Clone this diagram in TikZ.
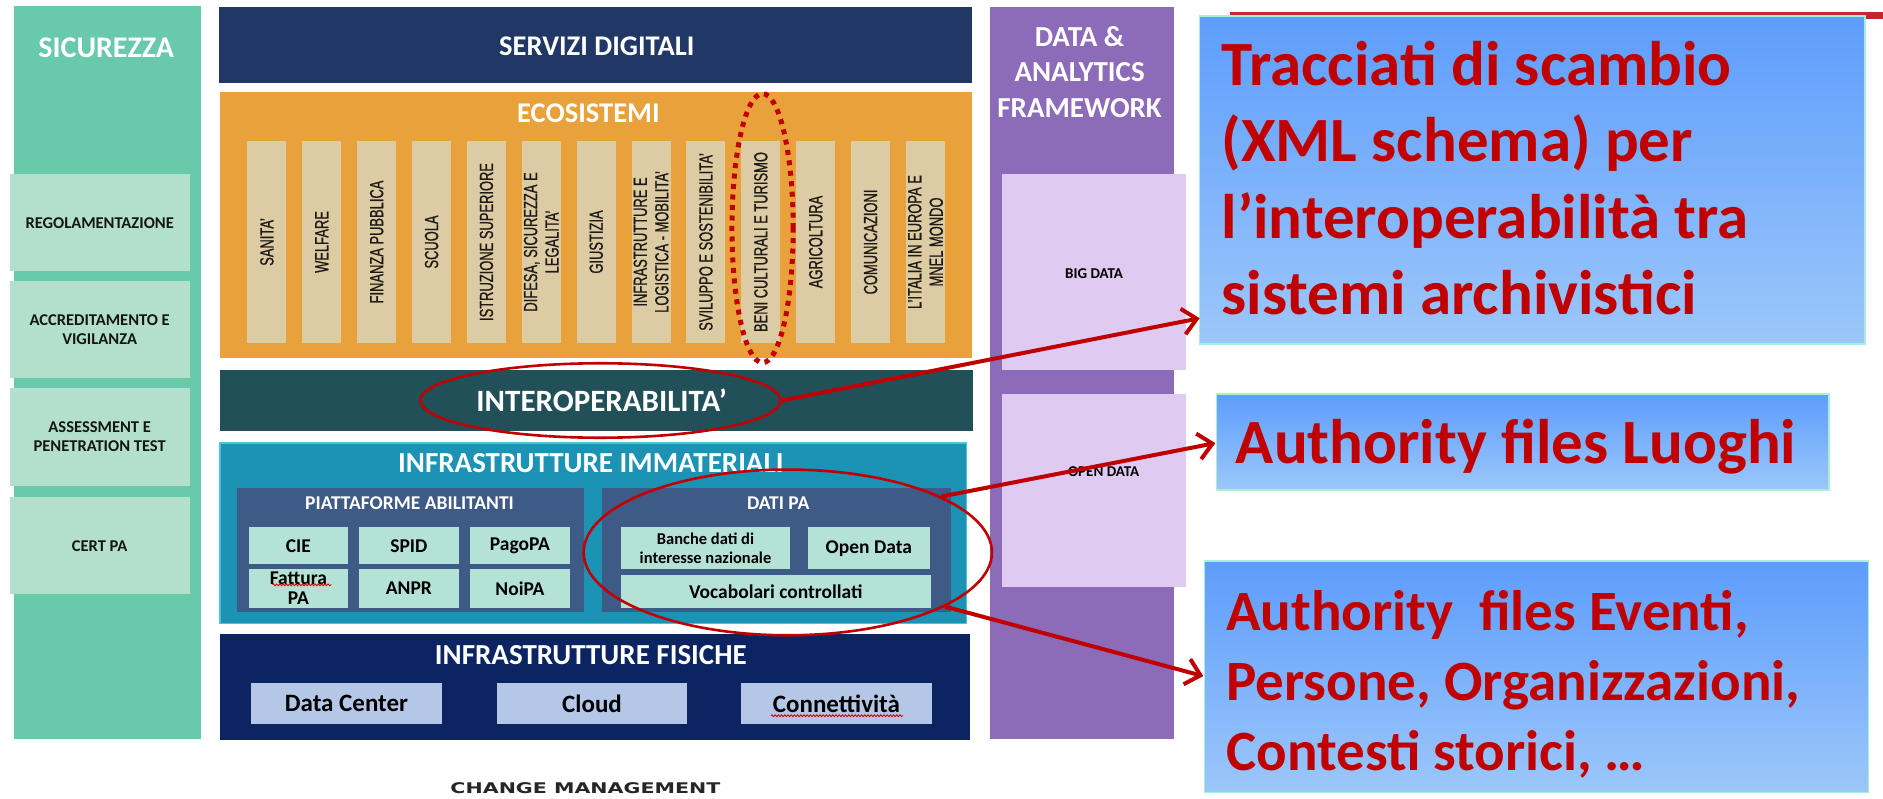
\documentclass[tikz,border=0pt]{standalone}
\usepackage{fontspec}
\setmainfont{Carlito}
\newfontfamily\narrowFont[FakeStretch=0.68,FakeBold=0.8]{Liberation Sans}
\newfontfamily\wideFont[FakeStretch=1.4]{DejaVu Sans}
\usetikzlibrary{shapes.geometric,arrows.meta,decorations.pathmorphing}
\definecolor{sicMain}{HTML}{69C9AB}
\definecolor{sicSub}{HTML}{B3E0CC}
\definecolor{servizi}{HTML}{213765}
\definecolor{eco}{HTML}{E9A23B}
\definecolor{ecoCol}{HTML}{DDCBA4}
\definecolor{interop}{HTML}{225058}
\definecolor{immat}{HTML}{1C93B4}
\definecolor{immatEdge}{HTML}{4CC3D6}
\definecolor{immatBox}{HTML}{3E5A87}
\definecolor{immatSub}{HTML}{B5E2D6}
\definecolor{fisiche}{HTML}{0C2462}
\definecolor{fisSub}{HTML}{B4C7E7}
\definecolor{dafPurple}{HTML}{8C6BB9}
\definecolor{lavender}{HTML}{DFCAF2}
\definecolor{blueTop}{HTML}{5E9DFC}
\definecolor{blueBot}{HTML}{9CC7FA}
\definecolor{blueEdge}{HTML}{A8EFD6}
\definecolor{darkRed}{HTML}{C00000}
\definecolor{topRed}{HTML}{C0282D}
\definecolor{colText}{HTML}{1E1A16}
\definecolor{subText}{HTML}{151515}
\newcommand\fsz[2]{\fontsize{#1}{#2}\selectfont}
\def\u{1.2009pt}
\newcommand\bx[7][]{%
  \pgfmathsetmacro\bxw{(#5)-(#3)}\pgfmathsetmacro\bxh{(#6)-(#4)}%
  \pgfmathsetmacro\bxcx{((#3)+(#5))/2}\pgfmathsetmacro\bxcy{((#4)+(#6))/2}%
  \node[inner sep=0pt,outer sep=0pt,minimum width=\bxw*\u,minimum height=\bxh*\u,#1] (#2) at (\bxcx,\bxcy) {#7};}
\begin{document}
\begin{tikzpicture}[x=1.2009pt,y=-1.2009pt,
  wt/.style={text=white,font=\bfseries\fsz{#1}{#1},inner sep=0pt},
  sicbox/.style={fill=sicSub,align=center,text=subText,font=\bfseries\fsz{16.5}{19}},
  collab/.style={rotate=90,align=center,text=colText,font=\narrowFont\fsz{19}{21.5},inner sep=0pt},
  platbox/.style={fill=immatSub,align=center,text=black,font=\bfseries\fsz{19.5}{23}},
  fisbox/.style={fill=fisSub,text=black,font=\bfseries\fsz{25}{30}},
  lavbox/.style={fill=lavender},
  lavtxt/.style={text=black,font=\bfseries\fsz{15}{18},inner sep=0pt},
  bluebox/.style={top color=blueTop,bottom color=blueBot,draw=blueEdge,line width=1.5pt},
  redtxt/.style={text=darkRed,font=\bfseries\fsz{#1}{#1},anchor=base west,inner sep=0pt},
  redell/.style={ellipse,draw=darkRed,line width=2.6pt,inner sep=0pt},
  redarrow/.style={draw=darkRed,line width=4pt,-{Straight Barb[length=14pt,width=26pt]}},
  squig/.style={draw=red!85!black,line width=0.9pt,decorate,decoration={snake,amplitude=0.9pt,segment length=3.2pt}}
]
\useasboundingbox[fill=white] (0,0) rectangle (1568,665);

% SICUREZZA
\bx[fill=sicMain]{sic}{12}{5}{167}{615}{}
\node[wt=30] (sicT) at (88.5,40) {SICUREZZA};
\bx[sicbox]{reg}{8}{145}{158}{226}{REGOLAMENTAZIONE}
\bx[sicbox]{acc}{8}{234}{158}{315}{ACCREDITAMENTO E\\VIGILANZA}
\bx[sicbox]{ass}{8}{323}{158}{405}{ASSESSMENT E\\PENETRATION TEST}
\bx[sicbox]{cert}{8}{414}{158}{495}{CERT PA}

% SERVIZI DIGITALI
\bx[fill=servizi]{serv}{182}{6}{809}{69.5}{}
\node[wt=28.5] (servT) at (497,38.5) {SERVIZI DIGITALI};

% ECOSISTEMI
\bx[fill=eco]{eco}{183}{77}{809}{298}{}
\node[wt=28.5] (ecoT) at (490,94) {ECOSISTEMI};
\foreach \i/\lab in {0/{SANITA’},1/{WELFARE},2/{FINANZA PUBBLICA},3/{SCUOLA},4/{ISTRUZIONE SUPERIORE},5/{DIFESA, SICUREZZA E\\LEGALITA’},6/{GIUSTIZIA},7/{INFRASTRUTTURE E\\LOGISTICA - MOBILITA’},8/{SVILUPPO E SOSTENIBILITA’},9/{BENI CULTURALI E TURISMO},10/{AGRICOLTURA},11/{COMUNICAZIONI},12/{L’ITALIA IN EUROPA E\\MNEL MONDO}}{
  \pgfmathsetmacro\xa{206+45.7*\i}
  \pgfmathsetmacro\xb{\xa+32.5}
  \bx[fill=ecoCol]{col\i}{\xa}{117}{\xb}{286}{}
  \node[collab] (lab\i) at (col\i.center) {\lab};
}

% INTEROPERABILITA
\bx[fill=interop]{iop}{183}{308}{810}{359}{}
\node[wt=31] (iopT) at (501,333.5) {INTEROPERABILITA’};

% INFRASTRUTTURE IMMATERIALI
\bx[fill=immat,draw=immatEdge,line width=1.5pt]{imm}{183}{369}{805}{519}{}
\node[wt=29] (immT) at (492,386) {INFRASTRUTTURE IMMATERIALI};
\bx[fill=immatBox]{pia}{197}{406}{486}{510}{}
\node[wt=19.5] (piaT) at (341,419) {PIATTAFORME ABILITANTI};
\bx[platbox]{cie}{207}{439}{290}{470}{CIE}
\bx[platbox]{spid}{299}{439}{382}{470}{SPID}
\bx[platbox]{pago}{391}{439}{475}{470}{PagoPA}
\bx[platbox,font=\bfseries\fsz{19.5}{20}]{fat}{207}{474}{290}{506}{Fattura\\PA}
\bx[platbox]{anpr}{299}{474}{382}{506}{ANPR}
\bx[platbox]{noi}{391}{474}{475}{506}{NoiPA}
\draw[squig] (227,487) -- (276,487);
\bx[fill=immatBox]{dati}{501}{406}{792}{510}{}
\node[wt=19.5] (datiT) at (648,419) {DATI PA};
\bx[platbox,font=\bfseries\fsz{16.5}{18.5}]{banche}{517}{439}{658}{474}{Banche dati di\\interesse nazionale}
\bx[platbox]{opend}{673}{439}{774}{474}{Open Data}
\bx[platbox]{vocab}{517}{479}{775}{506}{Vocabolari controllati}

% INFRASTRUTTURE FISICHE
\bx[fill=fisiche]{fis}{183}{528}{808}{616}{}
\node[wt=29] (fisT) at (492,545.5) {INFRASTRUTTURE FISICHE};
\bx[fisbox]{dc}{209}{569}{368}{603}{Data Center}
\bx[fisbox]{cloud}{414}{569}{572}{603}{Cloud}
\bx[fisbox]{conn}{617}{569}{776}{603}{Connettività}
\draw[squig] (642,596) -- (752,596);

% CHANGE MANAGEMENT
\node[inner sep=0pt,text=black!85,font=\wideFont\bfseries\fsz{14.7}{16}] (chg) at (487.5,656) {CHANGE MANAGEMENT};

% DATA & ANALYTICS FRAMEWORK
\bx[fill=dafPurple]{daf}{824}{6}{978}{615}{}
\node[wt=29,align=center,font=\bfseries\fsz{29}{35.5}] (dafT) at (899,60) {DATA \&\\ANALYTICS\\FRAMEWORK};
\bx[lavbox]{big}{834}{144.5}{987.5}{308.5}{}
\node[lavtxt] (bigT) at (911,227.5) {BIG DATA};
\bx[lavbox]{opn}{834}{328}{987.5}{488.5}{}
\node[lavtxt] (opnT) at (919,393) {OPEN DATA};

% right boxes
\draw[topRed,line width=7pt] (1024,12.6) -- (1568,12.6);
\bx[bluebox]{b1}{999}{13.5}{1553}{286.5}{}
\node[redtxt=63] (b1a) at (1017,70.8) {Tracciati di scambio};
\node[redtxt=63] (b1b) at (1017,134.9) {(XML schema) per};
\node[redtxt=63] (b1c) at (1017,198.2) {l’interoperabilità tra};
\node[redtxt=63] (b1d) at (1017,262.3) {sistemi archivistici};
\bx[bluebox]{b2}{1013}{328}{1523}{408}{}
\node[redtxt=63] (b2a) at (1029,386) {Authority files Luoghi};
\bx[bluebox]{b3}{1003}{467}{1556}{660}{}
\node[redtxt=57] (b3a) at (1021,525) {Authority\ \ files Eventi,};
\node[redtxt=57] (b3b) at (1021,583.4) {Persone, Organizzazioni,};
\node[redtxt=57] (b3c) at (1021,641.7) {Contesti storici, …};

% ellipses
\node[ellipse,draw=darkRed,line width=5pt,dash pattern=on 5pt off 5.5pt,minimum width=51*\u,minimum height=224*\u,inner sep=0pt] (ellB) at (635,190) {};
\node[redell,minimum width=300*\u,minimum height=62*\u] (ellI) at (500,333.5) {};
\node[redell,minimum width=340*\u,minimum height=138*\u] (ellD) at (656,460) {};

% arrows
\coordinate (t1) at (999,265);
\coordinate (t2) at (1012,369);
\coordinate (t3) at (1002,563);
\draw[redarrow] (ellI.east) -- (t1);
\draw[redarrow] (ellD.20) -- (t2);
\draw[redarrow] (ellD.-19) -- (t3);
\end{tikzpicture}
\end{document}
